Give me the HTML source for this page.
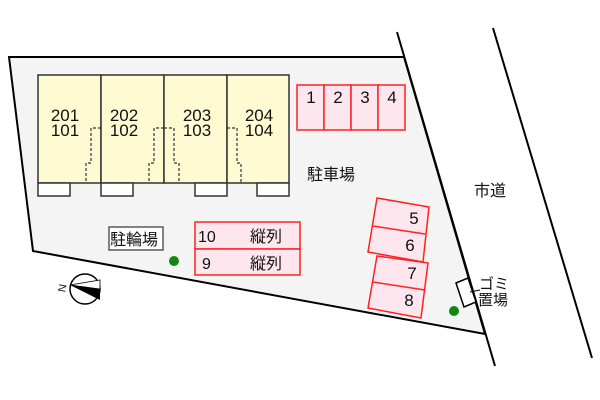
<!DOCTYPE html>
<html><head><meta charset="utf-8"><style>
html,body{margin:0;padding:0;background:#fff;}
svg{display:block;}
text{font-family:"Liberation Sans","Noto Sans CJK JP",sans-serif;fill:#111;}
</style></head><body>
<svg width="600" height="400" viewBox="0 0 600 400" xmlns="http://www.w3.org/2000/svg">
<polygon points="9,57 404,57 485,334 33,251" fill="#f4f4f4" stroke="#000" stroke-width="2"/>
<line x1="397" y1="32" x2="495" y2="366" stroke="#000" stroke-width="2"/>
<line x1="493" y1="28" x2="592" y2="358" stroke="#000" stroke-width="2"/>
<g fill="#fefad2" stroke="#333" stroke-width="1.5">
<rect x="38" y="75" width="63" height="108"/>
<rect x="101" y="75" width="63" height="108"/>
<rect x="164" y="75" width="63" height="108"/>
<rect x="227" y="75" width="62" height="108"/>
</g>
<g fill="#fff" stroke="#333" stroke-width="1.5">
<rect x="38" y="183" width="32" height="13"/>
<rect x="101" y="183" width="32" height="13"/>
<rect x="195" y="183" width="32" height="13"/>
<rect x="257" y="183" width="32" height="13"/>
</g>
<g fill="none" stroke="#333" stroke-width="1.2" stroke-dasharray="3,2">
<polyline points="101,128 91,128 91,163 86,163 86,183"/>
<polyline points="164,128 154,128 154,163 149,163 149,183"/>
<polyline points="164,128 174,128 174,163 179,163 179,183"/>
<polyline points="227,128 237,128 237,163 241,163 241,183"/>
</g>
<g font-size="17" text-anchor="middle">
<text x="65" y="121">201</text><text x="65" y="136">101</text>
<text x="124" y="121">202</text><text x="124" y="136">102</text>
<text x="197" y="121">203</text><text x="197" y="136">103</text>
<text x="259" y="121">204</text><text x="259" y="136">104</text>
</g>
<g fill="#fde6ee" stroke="#f22" stroke-width="1.5">
<rect x="297" y="85" width="27" height="45"/>
<rect x="324" y="85" width="27" height="45"/>
<rect x="351" y="85" width="27" height="45"/>
<rect x="378" y="85" width="27" height="45"/>
<rect x="195" y="222" width="105" height="27"/>
<rect x="195" y="249" width="105" height="26"/>
<polygon points="377,198 429,207 423,262 368,252"/>
<line x1="373" y1="226" x2="425" y2="234"/>
<polygon points="377,256 428,263 421,318 368,308"/>
<line x1="373" y1="282" x2="425" y2="290"/>
</g>
<g font-size="17" text-anchor="middle">
<text x="311" y="103">1</text><text x="338" y="103">2</text><text x="365" y="103">3</text><text x="392" y="103">4</text>
<text x="414" y="224">5</text><text x="410" y="251">6</text><text x="412" y="279">7</text><text x="409" y="306">8</text>
</g>
<g font-size="16">
<text x="198" y="242">10</text><text x="202" y="269">9</text>
<text x="250" y="242">縦列</text><text x="250" y="269">縦列</text>
<text x="307" y="180">駐車場</text>
<text x="474" y="196">市道</text>
</g>
<rect x="109" y="227" width="54" height="23" fill="#fff" stroke="#333" stroke-width="1.2"/>
<text x="110" y="245" font-size="16">駐輪場</text>
<circle cx="174" cy="261" r="5" fill="#118811"/>
<circle cx="454" cy="311" r="5" fill="#118811"/>
<polygon points="456,283 468,278 476,302 464,307" fill="#fff" stroke="#000" stroke-width="1.5"/>
<line x1="470" y1="292" x2="480" y2="290" stroke="#000" stroke-width="1"/>
<text x="479" y="289" font-size="15">ゴミ</text>
<text x="478" y="305" font-size="15">置場</text>
<circle cx="85" cy="289" r="15" fill="#fff" stroke="#000" stroke-width="1.5"/>
<polygon points="70,285 100,289 100,300" fill="#000"/>
<polygon points="70,285 100,280 100,289" fill="#fff" stroke="#000" stroke-width="0.8"/>
<text x="58" y="292" font-size="11" transform="rotate(-80 62 288)">N</text>
</svg>
</body></html>
